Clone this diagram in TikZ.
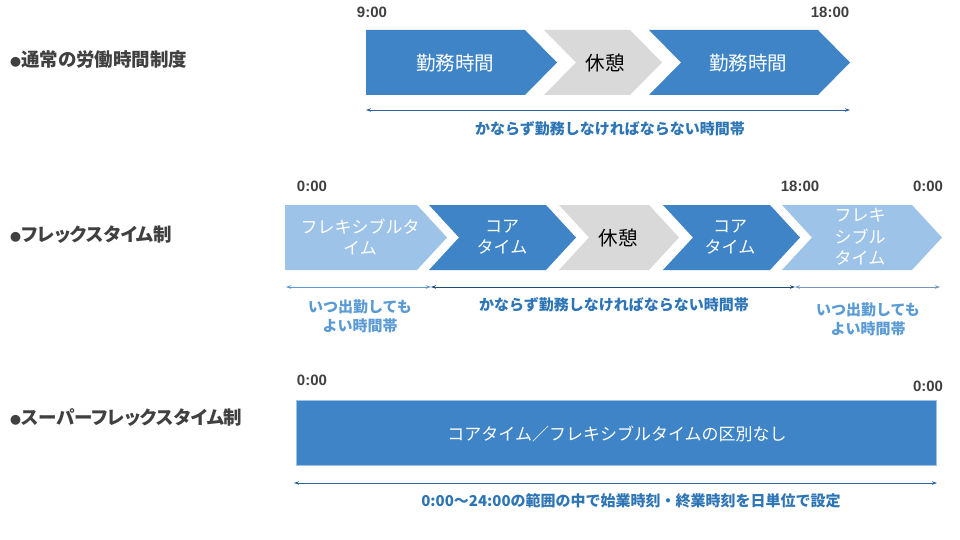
\documentclass[tikz,border=0pt]{standalone}
\usepackage{fontspec}
\setmainfont{Noto Sans CJK JP}
\newfontfamily\labelfont[RawFeature=+palt]{Noto Sans CJK JP}
\newfontfamily\timefont{Liberation Sans}
\usetikzlibrary{arrows.meta}
\definecolor{coreblue}{RGB}{62,132,198}
\definecolor{flexblue}{RGB}{157,195,232}
\definecolor{restgray}{RGB}{217,217,217}
\definecolor{labelgray}{RGB}{64,64,64}
\definecolor{textblue}{RGB}{46,117,182}
\definecolor{textlight}{RGB}{91,155,213}
\definecolor{linedark}{RGB}{31,78,121}
\definecolor{linemid}{RGB}{46,100,160}
\definecolor{linelight}{RGB}{91,155,213}
\definecolor{linegray}{RGB}{120,150,190}
\newcommand{\chevdepth}{32}
\newcommand{\chevflat}[5]{\fill[#1] (#2,#4) -- ({#3-\chevdepth},#4) -- (#3,{(#4+#5)/2}) -- ({#3-\chevdepth},#5) -- (#2,#5) -- cycle;}
\newcommand{\chevnotch}[5]{\fill[#1] (#2,#4) -- ({#3-\chevdepth},#4) -- (#3,{(#4+#5)/2}) -- ({#3-\chevdepth},#5) -- (#2,#5) -- ({#2+\chevdepth},{(#4+#5)/2}) -- cycle;}
\begin{document}
\begin{tikzpicture}[x=1pt,y=-1pt,
  rowlabel/.style={anchor=west,text=labelgray,font=\labelfont\fontsize{18.5}{20}\selectfont\bfseries,inner sep=0pt},
  timelabel/.style={text=labelgray,font=\timefont\fontsize{15}{18}\selectfont\bfseries,inner sep=0pt},
  boxtext/.style={text=white,align=center,inner sep=0pt},
  resttext/.style={text=black,align=center,inner sep=0pt},
  bigfont/.style={font=\fontsize{19.5}{22}\selectfont},
  midfont/.style={font=\fontsize{17}{21.5}\selectfont},
  subtext/.style={text=textblue,align=center,inner sep=0pt,font=\fontsize{15}{19}\selectfont\bfseries},
  sublight/.style={subtext,text=textlight},
  dimline/.style={line width=0.9pt,{Stealth[length=5pt,width=3.5pt]}-{Stealth[length=5pt,width=3.5pt]}},
  ]
\useasboundingbox (0,0) rectangle (960,540);
\fill[white] (0,0) rectangle (960,540);

% ---------- left labels ----------
\node[rowlabel] (lab1) at (10,59) {{\fontsize{11}{11}\selectfont ●}通常の労働時間制度};
\node[rowlabel] (lab2) at (10,235) {{\fontsize{11}{11}\selectfont ●}フレックスタイム制};
\node[rowlabel] (lab3) at (10,418) {{\fontsize{11}{11}\selectfont ●}スーパーフレックスタイム制};

% ---------- row 1 ----------
\node[timelabel] (t1a) at (372,12) {9:00};
\node[timelabel] (t1b) at (830,12) {18:00};
\chevflat{coreblue}{366}{557}{30}{95}
\chevnotch{restgray}{544}{662}{30}{95}
\chevnotch{coreblue}{649}{850}{30}{95}
\node[boxtext,bigfont] (w1) at (455,63) {勤務時間};
\node[resttext,bigfont] (r1) at (605,63) {休憩};
\node[boxtext,bigfont] (w2) at (748,63) {勤務時間};
\coordinate (a1l) at (366,110);
\coordinate (a1r) at (850,110);
\draw[dimline,linemid] (a1l) -- (a1r);
\node[subtext] (s1) at (610,129) {かならず勤務しなければならない時間帯};

% ---------- row 2 ----------
\renewcommand{\chevdepth}{30}
\node[timelabel] (t2a) at (312,186) {0:00};
\node[timelabel] (t2b) at (800,186) {18:00};
\node[timelabel] (t2c) at (928,186) {0:00};
\chevflat{flexblue}{285}{447}{205}{270}
\chevnotch{coreblue}{429}{576}{205}{270}
\chevnotch{restgray}{559}{679}{205}{270}
\chevnotch{coreblue}{663}{800}{205}{270}
\chevnotch{flexblue}{782}{942}{205}{270}
\node[boxtext,midfont] (f1) at (360,237) {フレキシブルタ\\イム};
\node[boxtext,midfont] (c1) at (502,237) {コア\\タイム};
\node[resttext,bigfont] (r2) at (618,238) {休憩};
\node[boxtext,midfont] (c2) at (730,237) {コア\\タイム};
\node[boxtext,midfont] (f2) at (860,237) {フレキ\\シブル\\タイム};
\coordinate (a2a) at (286,287);
\coordinate (a2b) at (431,287);
\coordinate (a2c) at (795,287);
\coordinate (a2d) at (940,287);
\draw[dimline,linelight] (a2a) -- (a2b);
\draw[dimline,linedark] (a2b) -- (a2c);
\draw[dimline,linegray] (a2c) -- (a2d);
\node[sublight] (s2a) at (360,316) {いつ出勤しても\\よい時間帯};
\node[subtext] (s2b) at (614,305) {かならず勤務しなければならない時間帯};
\node[sublight] (s2c) at (868,319) {いつ出勤しても\\よい時間帯};

% ---------- row 3 ----------
\node[timelabel] (t3a) at (312,380) {0:00};
\node[timelabel] (t3b) at (928,386) {0:00};
\node[fill=coreblue,draw=flexblue,line width=0.6pt,minimum width=640pt,minimum height=65pt,inner sep=0pt,anchor=north west] (sbox) at (296,400) {};
\node[boxtext,midfont] (st) at (617,434) {コアタイム／フレキシブルタイムの区別なし};
\coordinate (a3l) at (294,483);
\coordinate (a3r) at (937,483);
\draw[dimline,linemid] (a3l) -- (a3r);
\node[subtext] (s3) at (631,501) {0:00～24:00の範囲の中で始業時刻・終業時刻を日単位で設定};
\end{tikzpicture}
\end{document}
